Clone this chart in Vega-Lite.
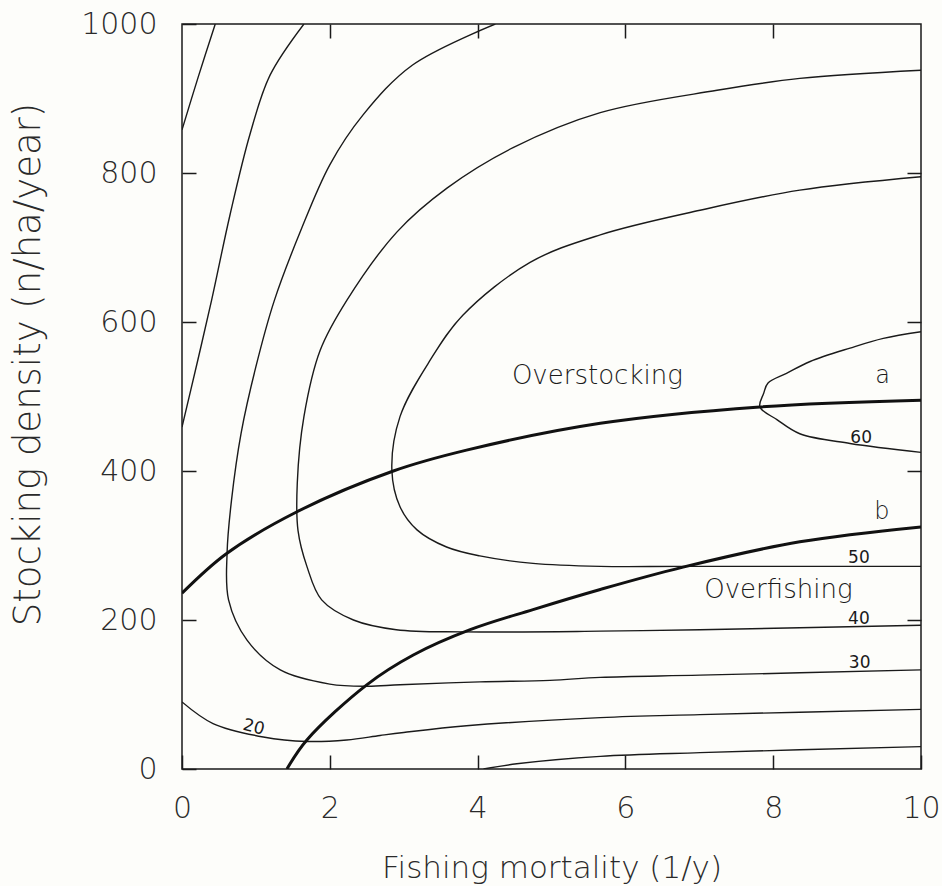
{
  "$schema": "https://vega.github.io/schema/vega-lite/v6.json",
  "width": 739,
  "height": 745,
  "autosize": {"type": "none"},
  "padding": {"left": 182, "top": 24, "right": 21, "bottom": 117},
  "background": "#fdfdfa",
  "datasets": {
    "contours": [
      {"level": "c1", "i": 0, "F": 0, "S": 858},
      {"level": "c1", "i": 1, "F": 0.22, "S": 929},
      {"level": "c1", "i": 2, "F": 0.45, "S": 1000},

      {"level": "c2", "i": 0, "F": 0, "S": 459},
      {"level": "c2", "i": 1, "F": 0.2, "S": 543},
      {"level": "c2", "i": 2, "F": 0.4, "S": 629},
      {"level": "c2", "i": 3, "F": 0.65, "S": 744},
      {"level": "c2", "i": 4, "F": 0.92, "S": 852},
      {"level": "c2", "i": 5, "F": 1.19, "S": 931},
      {"level": "c2", "i": 6, "F": 1.65, "S": 1000},

      {"level": "30", "i": 0, "F": 4.24, "S": 1000},
      {"level": "30", "i": 1, "F": 3.12, "S": 945},
      {"level": "30", "i": 2, "F": 2.45, "S": 878},
      {"level": "30", "i": 3, "F": 2.0, "S": 811},
      {"level": "30", "i": 4, "F": 1.6, "S": 721},
      {"level": "30", "i": 5, "F": 1.25, "S": 629},
      {"level": "30", "i": 6, "F": 1.0, "S": 540},
      {"level": "30", "i": 7, "F": 0.8, "S": 451},
      {"level": "30", "i": 8, "F": 0.67, "S": 361},
      {"level": "30", "i": 9, "F": 0.61, "S": 290},
      {"level": "30", "i": 10, "F": 0.63, "S": 227},
      {"level": "30", "i": 11, "F": 0.88, "S": 173},
      {"level": "30", "i": 12, "F": 1.33, "S": 133},
      {"level": "30", "i": 13, "F": 2.0, "S": 114},
      {"level": "30", "i": 14, "F": 2.5, "S": 111},
      {"level": "30", "i": 15, "F": 2.95, "S": 113},
      {"level": "30", "i": 16, "F": 4.03, "S": 117},
      {"level": "30", "i": 17, "F": 4.98, "S": 119},
      {"level": "30", "i": 18, "F": 5.66, "S": 123},
      {"level": "30", "i": 19, "F": 7.01, "S": 126},
      {"level": "30", "i": 20, "F": 10, "S": 133},

      {"level": "40", "i": 0, "F": 10, "S": 938},
      {"level": "40", "i": 1, "F": 8.36, "S": 927},
      {"level": "40", "i": 2, "F": 7.24, "S": 911},
      {"level": "40", "i": 3, "F": 5.66, "S": 881},
      {"level": "40", "i": 4, "F": 4.48, "S": 834},
      {"level": "40", "i": 5, "F": 3.59, "S": 780},
      {"level": "40", "i": 6, "F": 2.91, "S": 721},
      {"level": "40", "i": 7, "F": 2.23, "S": 629},
      {"level": "40", "i": 8, "F": 1.87, "S": 562},
      {"level": "40", "i": 9, "F": 1.65, "S": 473},
      {"level": "40", "i": 10, "F": 1.56, "S": 384},
      {"level": "40", "i": 11, "F": 1.57, "S": 320},
      {"level": "40", "i": 12, "F": 1.69, "S": 272},
      {"level": "40", "i": 13, "F": 1.89, "S": 227},
      {"level": "40", "i": 14, "F": 2.32, "S": 200},
      {"level": "40", "i": 15, "F": 2.9, "S": 187},
      {"level": "40", "i": 16, "F": 3.8, "S": 184},
      {"level": "40", "i": 17, "F": 5.66, "S": 185},
      {"level": "40", "i": 18, "F": 7.01, "S": 187},
      {"level": "40", "i": 19, "F": 10, "S": 193},

      {"level": "50", "i": 0, "F": 10, "S": 795},
      {"level": "50", "i": 1, "F": 8.36, "S": 777},
      {"level": "50", "i": 2, "F": 7.01, "S": 750},
      {"level": "50", "i": 3, "F": 5.66, "S": 717},
      {"level": "50", "i": 4, "F": 4.71, "S": 680},
      {"level": "50", "i": 5, "F": 3.8, "S": 609},
      {"level": "50", "i": 6, "F": 3.36, "S": 549},
      {"level": "50", "i": 7, "F": 2.95, "S": 473},
      {"level": "50", "i": 8, "F": 2.84, "S": 401},
      {"level": "50", "i": 9, "F": 2.95, "S": 352},
      {"level": "50", "i": 10, "F": 3.18, "S": 321},
      {"level": "50", "i": 11, "F": 3.58, "S": 298},
      {"level": "50", "i": 12, "F": 4.03, "S": 286},
      {"level": "50", "i": 13, "F": 4.75, "S": 276},
      {"level": "50", "i": 14, "F": 5.66, "S": 272},
      {"level": "50", "i": 15, "F": 6.78, "S": 272},
      {"level": "50", "i": 16, "F": 10, "S": 272},

      {"level": "60", "i": 0, "F": 10, "S": 587},
      {"level": "60", "i": 1, "F": 9.49, "S": 578},
      {"level": "60", "i": 2, "F": 9.04, "S": 565},
      {"level": "60", "i": 3, "F": 8.5, "S": 547},
      {"level": "60", "i": 4, "F": 8.18, "S": 531},
      {"level": "60", "i": 5, "F": 7.93, "S": 518},
      {"level": "60", "i": 6, "F": 7.87, "S": 504},
      {"level": "60", "i": 7, "F": 7.82, "S": 486},
      {"level": "60", "i": 8, "F": 8.05, "S": 469},
      {"level": "60", "i": 9, "F": 8.36, "S": 450},
      {"level": "60", "i": 10, "F": 9.04, "S": 437},
      {"level": "60", "i": 11, "F": 10, "S": 425},

      {"level": "20", "i": 0, "F": 0, "S": 90},
      {"level": "20", "i": 1, "F": 0.42, "S": 61},
      {"level": "20", "i": 2, "F": 1.1, "S": 43},
      {"level": "20", "i": 3, "F": 1.69, "S": 37},
      {"level": "20", "i": 4, "F": 2.23, "S": 39},
      {"level": "20", "i": 5, "F": 2.68, "S": 45},
      {"level": "20", "i": 6, "F": 3.0, "S": 49},
      {"level": "20", "i": 7, "F": 3.85, "S": 58},
      {"level": "20", "i": 8, "F": 5.66, "S": 69},
      {"level": "20", "i": 9, "F": 7.01, "S": 73},
      {"level": "20", "i": 10, "F": 10, "S": 80},

      {"level": "10", "i": 0, "F": 4.08, "S": 0},
      {"level": "10", "i": 1, "F": 4.53, "S": 7},
      {"level": "10", "i": 2, "F": 5.66, "S": 17},
      {"level": "10", "i": 3, "F": 7.01, "S": 22},
      {"level": "10", "i": 4, "F": 10, "S": 30}
    ],
    "boundaries": [
      {"curve": "a", "i": 0, "F": 0, "S": 236},
      {"curve": "a", "i": 1, "F": 0.6, "S": 289},
      {"curve": "a", "i": 2, "F": 1.55, "S": 345},
      {"curve": "a", "i": 3, "F": 2.86, "S": 400},
      {"curve": "a", "i": 4, "F": 3.85, "S": 428},
      {"curve": "a", "i": 5, "F": 5.66, "S": 464},
      {"curve": "a", "i": 6, "F": 7.82, "S": 486},
      {"curve": "a", "i": 7, "F": 10, "S": 495},

      {"curve": "b", "i": 0, "F": 1.42, "S": 0},
      {"curve": "b", "i": 1, "F": 1.69, "S": 39},
      {"curve": "b", "i": 2, "F": 2.5, "S": 113},
      {"curve": "b", "i": 3, "F": 3.13, "S": 153},
      {"curve": "b", "i": 4, "F": 3.9, "S": 187},
      {"curve": "b", "i": 5, "F": 4.75, "S": 214},
      {"curve": "b", "i": 6, "F": 5.66, "S": 241},
      {"curve": "b", "i": 7, "F": 6.78, "S": 271},
      {"curve": "b", "i": 8, "F": 8.36, "S": 305},
      {"curve": "b", "i": 9, "F": 10, "S": 325}
    ],
    "contourLabels": [
      {"label": "20", "F": 0.97, "S": 56},
      {"label": "30", "F": 9.17, "S": 135},
      {"label": "40", "F": 9.16, "S": 195},
      {"label": "50", "F": 9.16, "S": 276},
      {"label": "60", "F": 9.19, "S": 437}
    ],
    "regionLabels": [
      {"label": "Overstocking", "F": 5.62, "S": 517},
      {"label": "Overfishing", "F": 8.07, "S": 229}
    ],
    "curveLabels": [
      {"label": "a", "F": 9.48, "S": 518},
      {"label": "b", "F": 9.47, "S": 336}
    ]
  },
  "layer": [
    {
      "data": {"name": "contours"},
      "mark": {"type": "line", "stroke": "#1a1a1a", "strokeWidth": 1.4, "clip": true, "interpolate": "catmull-rom"},
      "encoding": {
        "x": {
          "field": "F", "type": "quantitative",
          "scale": {"domain": [0, 10], "nice": false, "zero": false},
          "axis": {
            "orient": "bottom", "values": [0, 2, 4, 6, 8, 10], "format": "d",
            "tickSize": -14, "labelPadding": 38, "labelFlush": false, "labelOverlap": false,
            "title": "Fishing mortality (1/y)", "titleFontSize": 31, "titleBaseline": "alphabetic", "titleY": 108
          }
        },
        "y": {
          "field": "S", "type": "quantitative",
          "scale": {"domain": [0, 1000], "nice": false, "zero": false},
          "axis": {
            "orient": "left", "values": [0, 200, 400, 600, 800, 1000], "format": "d",
            "tickSize": -14, "labelPadding": 39, "labelFlush": false, "labelOverlap": false,
            "title": "Stocking density (n/ha/year)", "titleFontSize": 37, "titleBaseline": "alphabetic",
            "titleAngle": -90, "titleX": -143, "titleY": 340
          }
        },
        "detail": {"field": "level", "type": "nominal"},
        "order": {"field": "i", "type": "quantitative"}
      }
    },
    {
      "data": {"name": "boundaries"},
      "mark": {"type": "line", "stroke": "#111111", "strokeWidth": 3, "clip": true, "interpolate": "catmull-rom"},
      "encoding": {
        "x": {
          "field": "F", "type": "quantitative",
          "scale": {"domain": [0, 10], "nice": false, "zero": false},
          "axis": {"orient": "top", "values": [2, 4, 6, 8], "tickSize": -14, "labels": false, "title": null}
        },
        "y": {
          "field": "S", "type": "quantitative",
          "scale": {"domain": [0, 1000], "nice": false, "zero": false},
          "axis": {"orient": "right", "values": [200, 400, 600, 800], "tickSize": -14, "labels": false, "title": null}
        },
        "detail": {"field": "curve", "type": "nominal"},
        "order": {"field": "i", "type": "quantitative"}
      }
    },
    {
      "data": {"name": "contourLabels"},
      "transform": [{"filter": "datum.label !== '20'"}],
      "mark": {"type": "text", "font": "DejaVu Sans", "fontSize": 17, "color": "#1a1a1a", "baseline": "alphabetic", "align": "center"},
      "encoding": {
        "x": {"field": "F", "type": "quantitative", "axis": null},
        "y": {"field": "S", "type": "quantitative", "axis": null},
        "text": {"field": "label", "type": "nominal"}
      }
    },
    {
      "data": {"name": "contourLabels"},
      "transform": [{"filter": "datum.label === '20'"}],
      "mark": {"type": "text", "font": "DejaVu Sans", "fontSize": 17, "color": "#1a1a1a", "baseline": "middle", "align": "center", "angle": 14},
      "encoding": {
        "x": {"field": "F", "type": "quantitative", "axis": null},
        "y": {"field": "S", "type": "quantitative", "axis": null},
        "text": {"field": "label", "type": "nominal"}
      }
    },
    {
      "data": {"name": "regionLabels"},
      "mark": {"type": "text", "font": "DejaVu Sans", "fontSize": 26, "fontWeight": 200, "color": "#1a1a1a", "baseline": "alphabetic", "align": "center"},
      "encoding": {
        "x": {"field": "F", "type": "quantitative", "axis": null},
        "y": {"field": "S", "type": "quantitative", "axis": null},
        "text": {"field": "label", "type": "nominal"}
      }
    },
    {
      "data": {"name": "curveLabels"},
      "mark": {"type": "text", "font": "DejaVu Sans", "fontSize": 24, "fontWeight": 200, "color": "#1a1a1a", "baseline": "alphabetic", "align": "center"},
      "encoding": {
        "x": {"field": "F", "type": "quantitative", "axis": null},
        "y": {"field": "S", "type": "quantitative", "axis": null},
        "text": {"field": "label", "type": "nominal"}
      }
    }
  ],
  "resolve": {"axis": {"x": "independent", "y": "independent"}},
  "config": {
    "view": {"stroke": "#1a1a1a", "strokeWidth": 1.5},
    "axis": {
      "grid": false, "domain": false,
      "tickColor": "#1a1a1a", "tickWidth": 1.5,
      "labelFont": "DejaVu Sans", "labelFontSize": 30, "labelFontWeight": 200, "labelColor": "#2a2a2a",
      "titleFont": "DejaVu Sans", "titleFontWeight": 200, "titleColor": "#2a2a2a"
    }
  }
}
